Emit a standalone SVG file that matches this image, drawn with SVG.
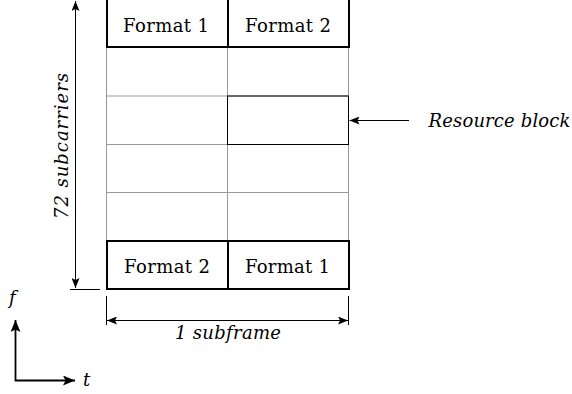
<svg xmlns="http://www.w3.org/2000/svg" width="572" height="394" viewBox="0 0 572 394">
  <style>
    .grid { stroke: #999; stroke-width: 1; fill: none; }
    .bold { stroke: #000; stroke-width: 2; fill: none; }
    .line { stroke: #000; stroke-width: 1; fill: none; }
    .axis { stroke: #000; stroke-width: 1.8; fill: none; }
    .lbl { font-family: "DejaVu Serif", serif; font-size: 18px; fill: #000; }
    .it { font-family: "DejaVu Serif", serif; font-style: italic; font-size: 18px; fill: #000; }
  </style>
  <defs>
    <marker id="ah" viewBox="0 0 10 8" refX="10" refY="4" markerWidth="10" markerHeight="8" markerUnits="userSpaceOnUse" orient="auto-start-reverse">
      <path d="M0,0 L10,4 L0,8 L2,4 Z" fill="#000"/>
    </marker>
    <marker id="ahAxis" viewBox="0 0 12 10" refX="12" refY="5" markerWidth="12" markerHeight="10" markerUnits="userSpaceOnUse" orient="auto-start-reverse">
      <path d="M0,0 L12,5 L0,10 L2.5,5 Z" fill="#000"/>
    </marker>
  </defs>

  <rect width="572" height="394" fill="#fff"/>

  <!-- thin grid of resource cells -->
  <g id="grid">
    <line class="grid" x1="227.5" y1="47" x2="227.5" y2="241"/>
    <line class="grid" x1="106.5" y1="47" x2="106.5" y2="241"/>
    <line class="grid" x1="348.5" y1="47" x2="348.5" y2="241"/>
    <line class="grid" x1="106" y1="96" x2="349" y2="96"/>
    <line class="grid" x1="106" y1="144.5" x2="349" y2="144.5"/>
    <line class="grid" x1="106" y1="192.5" x2="349" y2="192.5"/>
  </g>

  <g id="top-format-1">
    <rect class="bold" x="107" y="-1" width="121" height="48"/>
    <text class="lbl" x="123" y="31.5" textLength="86" lengthAdjust="spacing">Format 1</text>
  </g>
  <g id="top-format-2">
    <rect class="bold" x="228" y="-1" width="121" height="48"/>
    <text class="lbl" x="245" y="31.5" textLength="86" lengthAdjust="spacing">Format 2</text>
  </g>
  <g id="bottom-format-2">
    <rect class="bold" x="107" y="241" width="121" height="48"/>
    <text class="lbl" x="124" y="272.5" textLength="86" lengthAdjust="spacing">Format 2</text>
  </g>
  <g id="bottom-format-1">
    <rect class="bold" x="228" y="241" width="121" height="48"/>
    <text class="lbl" x="245" y="272.5" textLength="85" lengthAdjust="spacing">Format 1</text>
  </g>

  <g id="resource-block">
    <rect class="line" x="227.5" y="96" width="121" height="48.5"/>
    <text class="it" x="428.5" y="126.5" textLength="142" lengthAdjust="spacing">Resource block</text>
  </g>

  <g id="subcarriers-label">
    <text class="it" transform="translate(68,219) rotate(-90)" textLength="146" lengthAdjust="spacing">72 subcarriers</text>
  </g>
  <g id="subframe-label">
    <text class="it" x="175" y="339" textLength="106" lengthAdjust="spacing">1 subframe</text>
  </g>
  <g id="axis-labels">
    <text class="it" x="9" y="304">f</text>
    <text class="it" x="83" y="386">t</text>
  </g>

  <g id="connectors">
    <!-- frequency extent -->
    <line class="line" x1="75.5" y1="288" x2="75.5" y2="1" marker-end="url(#ah)" marker-start="url(#ah)"/>
    <line class="line" x1="70" y1="289.5" x2="100" y2="289.5"/>
    <!-- time extent -->
    <line class="line" x1="106.5" y1="296" x2="106.5" y2="325"/>
    <line class="line" x1="348.5" y1="296" x2="348.5" y2="325"/>
    <line class="line" x1="107" y1="320.5" x2="348" y2="320.5" marker-start="url(#ah)" marker-end="url(#ah)"/>
    <!-- pointer to resource block -->
    <line class="line" x1="409" y1="120.5" x2="349.5" y2="120.5" marker-end="url(#ah)"/>
    <!-- f / t axes -->
    <polyline class="axis" points="15.5,320 15.5,380.5 75,380.5" marker-start="url(#ahAxis)" marker-end="url(#ahAxis)"/>
  </g>
</svg>
